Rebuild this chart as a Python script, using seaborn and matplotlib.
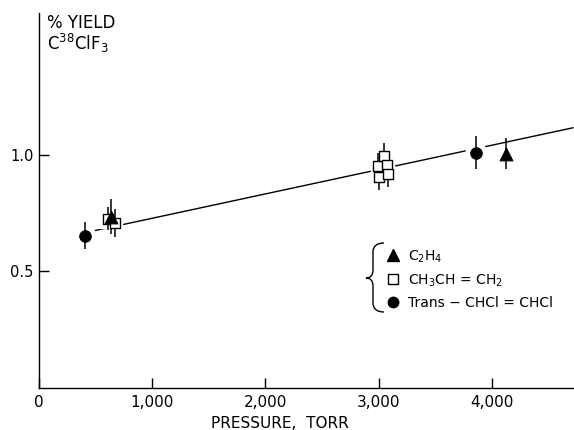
import matplotlib
matplotlib.use('Agg')  # no display
import matplotlib.pyplot as plt
from matplotlib.lines import Line2D
from matplotlib.path import Path
from matplotlib.patches import PathPatch
import seaborn as sns

# C2H4 points
c2h4_pressure = [632, 4126]
c2h4_yield = [0.734, 1.004]
c2h4_err = [0.075, 0.066]

# CH3CH=CH2 points
c3h6_pressure = [605, 675, 2996, 3049, 3076, 3005, 3085]
c3h6_yield = [0.726, 0.708, 0.953, 0.996, 0.957, 0.906, 0.919]
c3h6_err = [0.05, 0.06, 0.055, 0.055, 0.055, 0.055, 0.055]

# trans-CHCl=CHCl points
dce_pressure = [402, 3861]
dce_yield = [0.653, 1.009]
dce_err = [0.058, 0.07]

# straight line through the data
fit_pressure = [446, 4717]
fit_yield = [0.670, 1.116]

x_ticks = [0, 1000, 2000, 3000, 4000]
x_tick_labels = ['0', '1,000', '2,000', '3,000', '4,000']
y_ticks = [0.5, 1.0]
y_tick_labels = ['0.5', '1.0']

sns.set_style('ticks')
plt.rcParams['font.family'] = ['DejaVu Sans']
plt.rcParams['mathtext.fontset'] = 'dejavusans'
plt.rcParams['text.color'] = 'black'
plt.rcParams['axes.labelcolor'] = 'black'
plt.rcParams['xtick.color'] = 'black'
plt.rcParams['ytick.color'] = 'black'

W, H = 574, 430
fig = plt.figure(figsize=(W / 100, H / 100), dpi=100)
ax = fig.add_axes([39 / W, 42 / H, 535 / W, 375 / H])

# fit line
sns.lineplot(x=fit_pressure, y=fit_yield, color='black', linewidth=1.0, ax=ax, zorder=1)

# white halos give the hand-drawn gaps in the line around the markers
for px, py, mk, sz in [(dce_pressure, dce_yield, 'o', 15),
                       (c2h4_pressure, c2h4_yield, '^', 16),
                       (c3h6_pressure, c3h6_yield, 's', 10)]:
    ax.plot(px, py, linestyle='none', marker=mk, markersize=sz,
            color='white', zorder=2)

# error bars
for px, py, pe in [(dce_pressure, dce_yield, dce_err),
                   (c2h4_pressure, c2h4_yield, c2h4_err),
                   (c3h6_pressure, c3h6_yield, c3h6_err)]:
    ax.errorbar(px, py, yerr=pe, fmt='none', ecolor='black',
                elinewidth=1.1, capsize=0, zorder=3)

# markers: open squares first so the filled symbols sit on top
sns.scatterplot(x=c3h6_pressure, y=c3h6_yield, marker='s', s=42,
                facecolor='white', edgecolor='black', linewidth=1.0,
                ax=ax, zorder=4)
sns.scatterplot(x=dce_pressure, y=dce_yield, marker='o', s=70,
                color='black', edgecolor='black', ax=ax, zorder=5)
sns.scatterplot(x=c2h4_pressure, y=c2h4_yield, marker='^', s=85,
                color='black', edgecolor='black', ax=ax, zorder=5)

ax.set_xlim(0, 4725)
ax.set_ylim(0, 1.608)
ax.set_xticks(x_ticks)
ax.set_xticklabels(x_tick_labels, fontsize=11)
ax.set_yticks(y_ticks)
ax.set_yticklabels(y_tick_labels, fontsize=10.5)
ax.tick_params(axis='both', direction='in', length=7, width=1.0,
               color='black', labelcolor='black')
ax.tick_params(axis='x', pad=5)
ax.tick_params(axis='y', pad=4)
for side in ['top', 'right']:
    ax.spines[side].set_visible(False)
for side in ['left', 'bottom']:
    ax.spines[side].set_linewidth(1.0)
    ax.spines[side].set_color('black')

ax.set_xlabel('PRESSURE,  TORR', fontsize=11)
ax.xaxis.set_label_coords(0.45, -0.075)
ax.set_ylabel('')

ax.text(0.015, 0.96, '% YIELD', transform=ax.transAxes, fontsize=12,
        ha='left', va='baseline')
ax.text(0.015, 0.901, r'C$^{38}$ClF$_3$', transform=ax.transAxes, fontsize=12,
        ha='left', va='baseline')

# legend
handles = [
    Line2D([], [], linestyle='none', marker='^', markersize=8, color='black'),
    Line2D([], [], linestyle='none', marker='s', markersize=6.5,
           markerfacecolor='white', markeredgecolor='black'),
    Line2D([], [], linestyle='none', marker='o', markersize=7.5, color='black'),
]
labels = [r'C$_2$H$_4$', r'CH$_3$CH = CH$_2$', 'Trans − CHCl = CHCl']
ax.legend(handles, labels, loc='upper left', bbox_to_anchor=(0.648, 0.373),
          frameon=False, fontsize=10, handlelength=1.0, handletextpad=0.6,
          labelspacing=0.55, borderpad=0, borderaxespad=0)

# curly brace in front of the legend
pts = [(384, 243), (373, 243), (373, 252), (373, 270), (373, 278),
       (366, 278), (373, 278), (373, 286), (373, 303), (373, 312), (384, 312)]
codes = [Path.MOVETO, Path.CURVE3, Path.CURVE3, Path.LINETO, Path.CURVE3,
         Path.CURVE3, Path.CURVE3, Path.CURVE3, Path.LINETO, Path.CURVE3,
         Path.CURVE3]
brace = Path([(x / W, 1 - y / H) for x, y in pts], codes)
fig.patches.append(PathPatch(brace, transform=fig.transFigure, facecolor='none',
                             edgecolor='black', linewidth=1.0))

fig.savefig('out.png', dpi=100)
